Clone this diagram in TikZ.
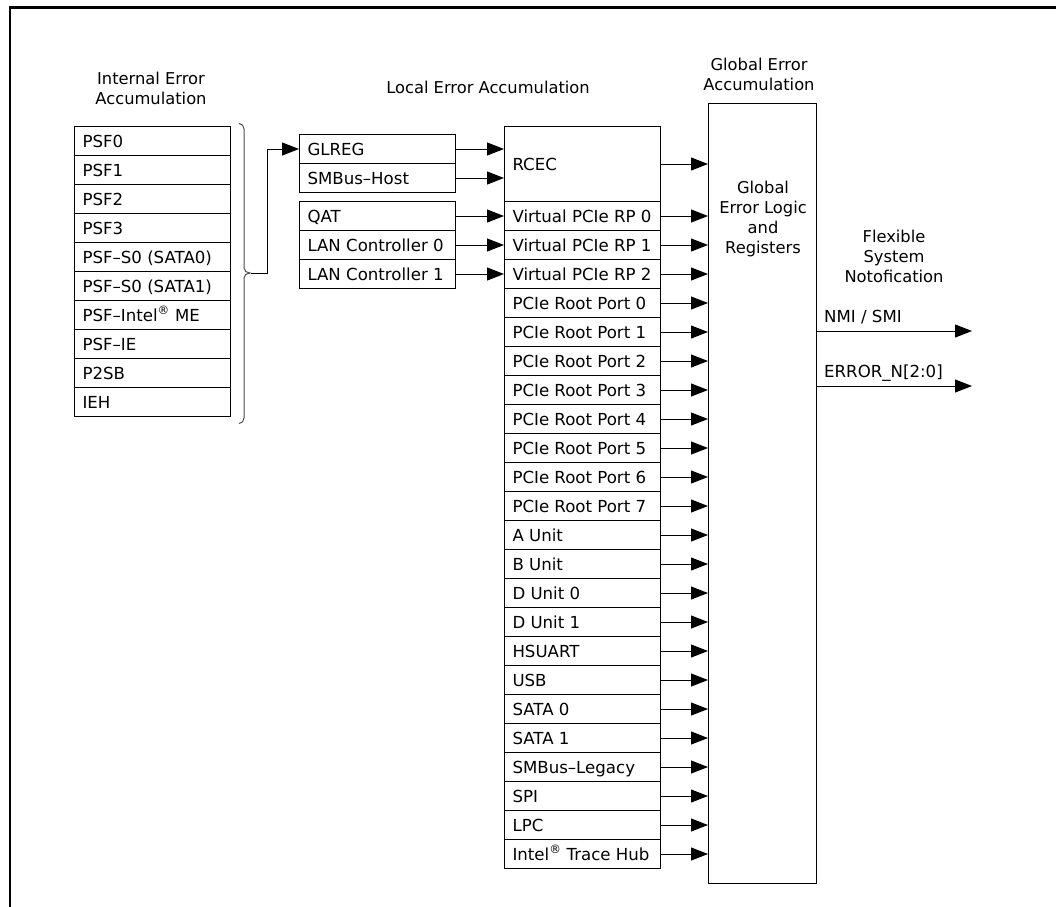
\documentclass[tikz,border=0pt]{standalone}
\usepackage{fontspec}
\setmainfont{DejaVu Sans}
\usetikzlibrary{arrows.meta}
\begin{document}
\begin{tikzpicture}[x=1pt,y=-1pt,
  txt/.style={font=\fontsize{16.6}{20}\selectfont},
  rowbox/.style={draw,line width=1pt,minimum width=156pt,minimum height=29pt,inner xsep=8pt,inner ysep=0pt,
    text height=12.1pt,text depth=0pt,anchor=north west,font=\fontsize{16.6}{20}\selectfont},
  arr/.style={line width=1pt,-{Triangle[length=17pt,width=13pt]}},
  heading/.style={align=center,inner sep=0pt,font=\fontsize{16.3}{20}\selectfont}]
\useasboundingbox (0,0) rectangle (1056,906);
% frame
\draw[line width=2.5pt] (10,910) -- (10,7.5) -- (1060,7.5);
% headings
\node[heading] (hint) at (151,88.5) {Internal Error\\Accumulation};
\node[heading,anchor=base] (hloc) at (488,93.5) {Local Error Accumulation};
\node[heading] (hglob) at (759,74.5) {Global Error\\Accumulation};
\node[heading] (hflex) at (894,256) {Flexible\\System\\Notofication};
% internal column
\foreach \t [count=\i] in {PSF0,PSF1,PSF2,PSF3,PSF–S0 (SATA0),PSF–S0 (SATA1),{PSF–Intel\textsuperscript{®} ME},PSF–IE,P2SB,IEH}{
  \node[rowbox] (p\i) at (74,{126+29*(\i-1)}) {\makebox[140pt][l]{\t}};
}
% brace
\draw[line width=1pt,black!70] (239,123.5) to[out=0,in=90] (244,129) -- (244,268) to[out=-90,in=180] (250,273)
  to[out=180,in=90] (244,278) -- (244,418) to[out=-90,in=0] (239,423.5);
\coordinate (bt) at (251,273);
% local boxes
\node[rowbox] (glreg) at (299,134) {\makebox[140pt][l]{GLREG}};
\node[rowbox] (smbh) at (299,163) {\makebox[140pt][l]{SMBus–Host}};
\node[rowbox] (qat) at (299,201) {\makebox[140pt][l]{QAT}};
\node[rowbox] (lan0) at (299,230) {\makebox[140pt][l]{LAN Controller 0}};
\node[rowbox] (lan1) at (299,259) {\makebox[140pt][l]{LAN Controller 1}};
\draw[arr] (bt) -- ++(16,0) |- (glreg.west);
% global box
\node[draw,line width=1pt,minimum width=108pt,minimum height=780pt,anchor=north west,inner sep=0pt] (glob) at (708,103) {};
\node[heading] (gtext) at (763,218.5) {Global\\Error Logic\\and\\Registers};
% RCEC
\node[rowbox,minimum height=75pt] (rcec) at (504,126) {\makebox[140pt][l]{RCEC}};
\draw[arr] (glreg.east) -- (glreg.east -| rcec.west);
\draw[arr] (smbh.east) -- (smbh.east -| rcec.west);
\draw[arr] (rcec.east) -- (rcec.east -| glob.west);
\foreach \t [count=\i] in {Virtual PCIe RP 0,Virtual PCIe RP 1,Virtual PCIe RP 2,PCIe Root Port 0,PCIe Root Port 1,PCIe Root Port 2,PCIe Root Port 3,PCIe Root Port 4,PCIe Root Port 5,PCIe Root Port 6,PCIe Root Port 7,A Unit,B Unit,D Unit 0,D Unit 1,HSUART,USB,SATA 0,SATA 1,SMBus–Legacy,SPI,LPC,{Intel\textsuperscript{®} Trace Hub}}{
  \node[rowbox] (r\i) at (504,{201+29*(\i-1)}) {\makebox[140pt][l]{\t}};
  \draw[arr] (r\i.east) -- (r\i.east -| glob.west);
}
\draw[arr] (qat.east) -- (r1.west);
\draw[arr] (lan0.east) -- (r2.west);
\draw[arr] (lan1.east) -- (r3.west);
% outputs
\coordinate (nmiend) at (972,331);
\coordinate (errend) at (972,386);
\draw[arr] (glob.east |- nmiend) -- (nmiend);
\draw[arr] (glob.east |- errend) -- (errend);
\node[txt,anchor=base west,inner sep=0pt] (nmi) at (824,322) {NMI / SMI};
\node[txt,anchor=base west,inner sep=0pt] (errn) at (824,377) {ERROR\_N[2:0]};
\end{tikzpicture}
\end{document}
